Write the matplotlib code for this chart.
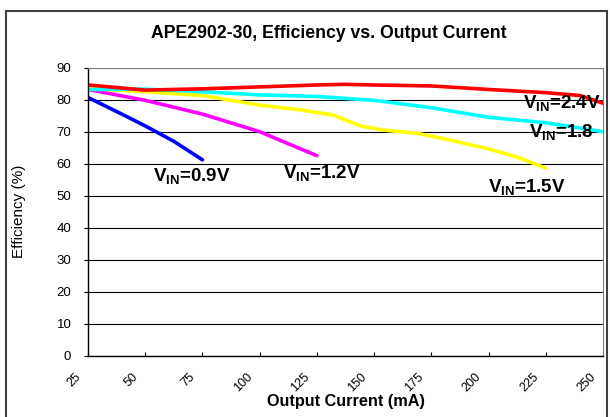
import matplotlib.pyplot as plt
import matplotlib.transforms as mtransforms
from matplotlib.patches import Rectangle

plt.rcParams['font.family'] = ['Liberation Sans', 'DejaVu Sans']
plt.rcParams['mathtext.fontset'] = 'custom'
plt.rcParams['mathtext.rm'] = 'Liberation Sans'
plt.rcParams['mathtext.bf'] = 'Liberation Sans:bold'

# efficiency (%) vs output current (mA), one series per input voltage
x_09 = [25, 42, 50, 62.5, 75]
eff_09 = [80.7, 74.7, 71.8, 67.0, 61.2]

x_12 = [25, 50, 75, 100, 125]
eff_12 = [83.2, 79.8, 75.5, 70.0, 62.5]

x_15 = [25, 50, 75, 100, 118, 132, 144, 154, 169, 183, 199, 212, 225]
eff_15 = [83.5, 82.5, 81.3, 78.3, 76.8, 75.2, 71.8, 70.5, 69.5, 67.4, 64.8, 62.2, 58.6]

x_18 = [25, 50, 75, 100, 125, 150, 175, 200, 225, 250]
eff_18 = [83.2, 83.3, 82.5, 81.5, 81.0, 79.8, 77.5, 74.5, 72.8, 70.0]

x_24 = [25, 50, 75, 100, 125, 137, 150, 175, 200, 225, 240, 250]
eff_24 = [84.6, 83.0, 83.4, 84.0, 84.6, 84.8, 84.6, 84.3, 83.2, 82.2, 81.3, 78.9]

x_ticks = [25, 50, 75, 100, 125, 150, 175, 200, 225, 250]
y_ticks = [0, 10, 20, 30, 40, 50, 60, 70, 80, 90]

fig = plt.figure(figsize=(6.1, 4.17), dpi=100)
ax = fig.add_axes([88 / 610, 61.3 / 417, 515 / 610, 288 / 417])

# outer chart border
fig.patches.append(Rectangle((5.5 / 610, -0.01), 601.5 / 610, (417 - 10.5) / 417 + 0.01,
                             transform=fig.transFigure, fill=False,
                             edgecolor='#404040', linewidth=1.5))

lw = 2.6
ax.plot(x_09, eff_09, color='#0000FF', linewidth=lw, solid_capstyle='round')
ax.plot(x_12, eff_12, color='#FF00FF', linewidth=lw, solid_capstyle='round')
ax.plot(x_15, eff_15, color='#FFFF00', linewidth=lw, solid_capstyle='round')
ax.plot(x_18, eff_18, color='#00FFFF', linewidth=lw, solid_capstyle='round')
ax.plot(x_24, eff_24, color='#FF0000', linewidth=lw, solid_capstyle='round')

ax.set_xlim(25, 250)
ax.set_ylim(0, 90)
ax.set_xticks(x_ticks)
ax.set_xticklabels([str(t) for t in x_ticks], rotation=45, fontsize=9)
ax.set_yticks(y_ticks)
ax.set_yticklabels([str(t) for t in y_ticks], fontsize=9.5)
ax.tick_params(axis='x', direction='in', length=3, pad=11)
ax.tick_params(axis='y', direction='out', length=3, pad=9)
shift = mtransforms.ScaledTranslation(-5 / 100, 0, fig.dpi_scale_trans)
for lab in ax.get_xticklabels():
    lab.set_horizontalalignment('right')
    lab.set_transform(lab.get_transform() + shift)
ax.yaxis.grid(True, color='black', linewidth=0.8)
ax.set_axisbelow(True)
ax.spines['top'].set_color('#808080')
ax.spines['right'].set_color('#808080')
ax.spines['left'].set_linewidth(1.0)
ax.spines['bottom'].set_linewidth(1.0)

ax.set_xlabel('Output Current (mA)', fontsize=11.7, fontweight='bold', labelpad=0)
ax.set_ylabel('Efficiency (%)', fontsize=11, labelpad=22)

fig.text(329 / 610, 1 - 33 / 417, 'APE2902-30, Efficiency vs. Output Current',
         ha='center', va='center', fontsize=12.7, fontweight='bold')

label_kw = dict(fontsize=13.5, fontweight='bold', va='baseline', ha='left')
ax.text(53.4, 54.7, r'$\mathbf{V_{IN}}$=0.9V', **label_kw)
ax.text(110.2, 55.4, r'$\mathbf{V_{IN}}$=1.2V', **label_kw)
ax.text(199.9, 51.25, r'$\mathbf{V_{IN}}$=1.5V', **label_kw)
ax.text(217.8, 68.25, r'$\mathbf{V_{IN}}$=1.8', **label_kw)
ax.text(214.9, 77.3, r'$\mathbf{V_{IN}}$=2.4V', **label_kw)

fig.savefig('out.png', dpi=100)
